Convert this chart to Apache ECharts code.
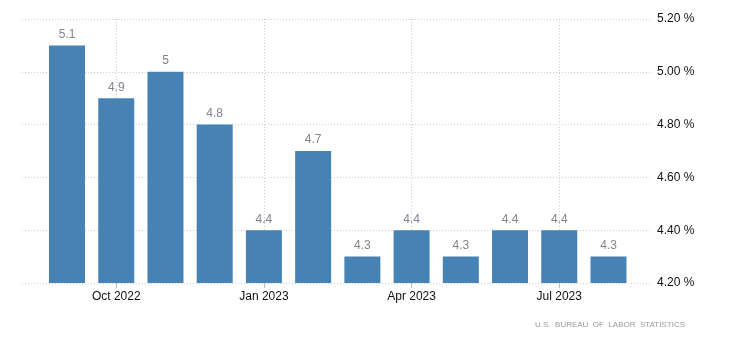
<!DOCTYPE html>
<html>
<head>
<meta charset="utf-8">
<script src="https://cdn.jsdelivr.net/npm/echarts@6/dist/echarts.min.js"></script>
<style>html,body{margin:0;padding:0;background:#fff}#c{width:730px;height:350px}</style>
</head>
<body>
<div id="c"></div>
<script>
var categories = ['Sep 2022','Oct 2022','Nov 2022','Dec 2022','Jan 2023','Feb 2023','Mar 2023','Apr 2023','May 2023','Jun 2023','Jul 2023','Aug 2023'];
var values = [5.1, 4.9, 5.0, 4.8, 4.4, 4.7, 4.3, 4.4, 4.3, 4.4, 4.4, 4.3];
var yMin = 4.2, yMax = 5.2, yStep = 0.2;
var labelIdx = [1, 4, 7, 10];
var sourceText = 'U.S.  BUREAU  OF  LABOR  STATISTICS';

var font = 'Liberation Sans, Arial, sans-serif';
var chart = echarts.init(document.getElementById('c'));
var showIdx = function (i) { return labelIdx.indexOf(i) >= 0; };
chart.setOption({
  animation: false,
  grid: [
    {left: 22, right: 78, top: 19, bottom: 67},
    {left: 42.4, right: 96.9, top: 19, bottom: 67}
  ],
  xAxis: [
    {gridIndex: 0, type: 'value', min: 0, max: 1, show: false},
    {gridIndex: 1, type: 'category', data: categories,
     axisLine: {show: false},
     axisTick: {show: true, alignWithLabel: true, interval: function (i) { return showIdx(i); }, length: 5, lineStyle: {color: '#bbb'}},
     axisLabel: {interval: function (i) { return showIdx(i); }, color: '#111', fontFamily: font, fontSize: 12, margin: 8},
     splitLine: {show: true, alignWithLabel: true, interval: function (i) { return showIdx(i); }, lineStyle: {color: '#ccc', type: [1, 2], width: 1}}
    }
  ],
  yAxis: [
    {gridIndex: 0, type: 'value', position: 'right', min: yMin, max: yMax, interval: yStep,
     axisLine: {show: false}, axisTick: {show: false},
     axisLabel: {color: '#111', fontFamily: font, fontSize: 12, margin: 5, padding: [3, 0, 0, 0],
       formatter: function (v) { return v.toFixed(2) + ' %'; }},
     splitLine: {show: true, lineStyle: {color: '#ccc', type: [1, 2], width: 1}}
    },
    {gridIndex: 1, type: 'value', min: yMin, max: yMax, interval: yStep, show: false}
  ],
  series: [{
    type: 'bar', xAxisIndex: 1, yAxisIndex: 1, data: values,
    barWidth: 36,
    itemStyle: {color: '#4682b4'},
    label: {show: true, position: 'top', distance: 5, color: '#83838f', fontFamily: font, fontSize: 12,
      formatter: function (p) { return String(p.value); }}
  }],
  graphic: [{
    type: 'text', right: 45, top: 321,
    style: {text: sourceText, fill: '#999', font: '8px ' + font}
  }]
});
</script>
</body>
</html>
